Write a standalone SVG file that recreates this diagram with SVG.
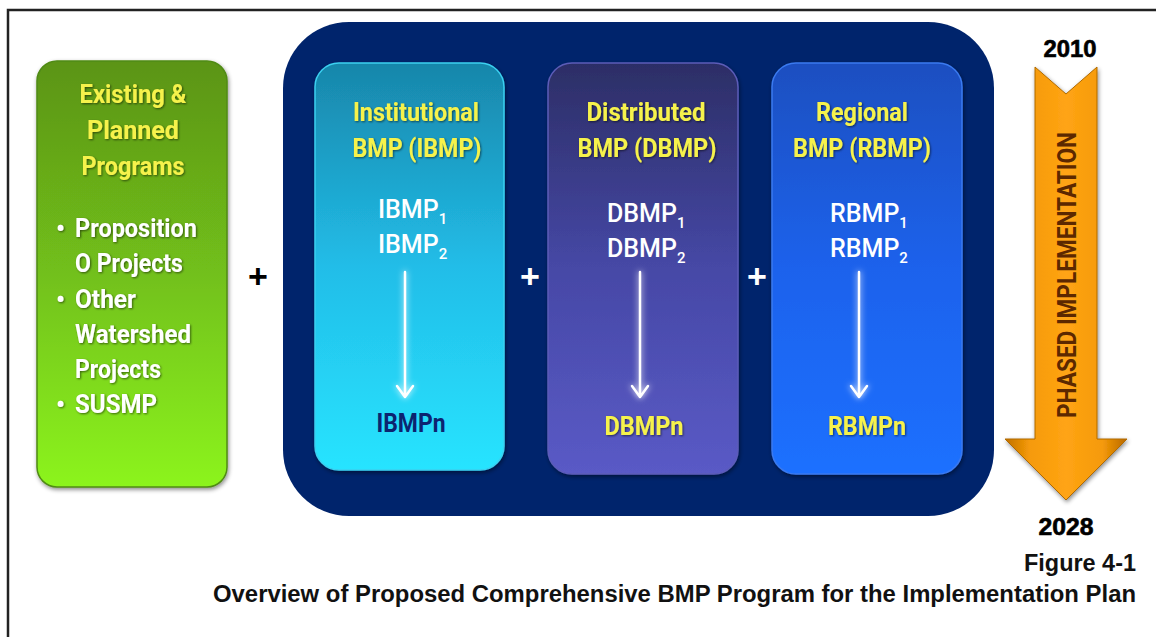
<svg xmlns="http://www.w3.org/2000/svg" width="1156" height="637" viewBox="0 0 1156 637">
<defs>
  <linearGradient id="gGreen" x1="0" y1="0" x2="0" y2="1">
    <stop offset="0" stop-color="#5b9418"/>
    <stop offset="0.5" stop-color="#72c01a"/>
    <stop offset="1" stop-color="#8cf41c"/>
  </linearGradient>
  <linearGradient id="gCyan" x1="0" y1="0" x2="0" y2="1">
    <stop offset="0" stop-color="#1886aa"/>
    <stop offset="0.5" stop-color="#22bde8"/>
    <stop offset="1" stop-color="#28e4ff"/>
  </linearGradient>
  <linearGradient id="gPurple" x1="0" y1="0" x2="0" y2="1">
    <stop offset="0" stop-color="#2c2e66"/>
    <stop offset="0.5" stop-color="#4648a6"/>
    <stop offset="1" stop-color="#5a5ac6"/>
  </linearGradient>
  <linearGradient id="gBlue" x1="0" y1="0" x2="0" y2="1">
    <stop offset="0" stop-color="#1a4fc0"/>
    <stop offset="0.5" stop-color="#1e62ec"/>
    <stop offset="1" stop-color="#1f70ff"/>
  </linearGradient>
  <linearGradient id="gOrange" x1="0" y1="0" x2="1" y2="0">
    <stop offset="0" stop-color="#c07000"/>
    <stop offset="0.2" stop-color="#f59a08"/>
    <stop offset="0.5" stop-color="#ffa414"/>
    <stop offset="0.8" stop-color="#f59a08"/>
    <stop offset="1" stop-color="#b86800"/>
  </linearGradient>
  <filter id="shadow" x="-10%" y="-10%" width="120%" height="120%">
    <feDropShadow dx="1" dy="2" stdDeviation="2" flood-color="#000" flood-opacity="0.45"/>
  </filter>
  <filter id="tshadow" x="-10%" y="-20%" width="120%" height="140%">
    <feDropShadow dx="1" dy="1" stdDeviation="0.8" flood-color="#000" flood-opacity="0.55"/>
  </filter>
  <filter id="glow" x="-200%" y="-10%" width="500%" height="120%">
    <feGaussianBlur in="SourceGraphic" stdDeviation="3" result="b"/>
    <feMerge><feMergeNode in="b"/><feMergeNode in="SourceGraphic"/></feMerge>
  </filter>
</defs>
<style>
  .title { font-family: Roboto, "Liberation Sans", sans-serif; font-weight: bold; font-size: 26px; fill: #f6f24c; text-anchor: middle; }
  .item { font-family: Roboto, "Liberation Sans", sans-serif; font-weight: 500; font-size: 25px; fill: #ffffff; }
  .green { font-family: Roboto, "Liberation Sans", sans-serif; font-weight: bold; font-size: 25px; fill: #ffffff; }
  .end { font-family: Roboto, "Liberation Sans", sans-serif; font-weight: bold; font-size: 25px; }
  .plus { font-family: "Liberation Sans", sans-serif; font-weight: bold; font-size: 34px; text-anchor: middle; }
  .year { font-family: "Liberation Sans", sans-serif; font-weight: bold; font-size: 23px; fill: #000; text-anchor: middle; stroke: #000; stroke-width: 0.6; }
  .cap { font-family: "Liberation Sans", sans-serif; font-weight: bold; fill: #111; text-anchor: end; }
  .flow { stroke: #ffffff; stroke-width: 2.5; fill: none; stroke-linecap: round; stroke-linejoin: round; }
</style>

<!-- frame -->
<path d="M8,637 L8,10 L1156,10" fill="none" stroke="#222" stroke-width="2.5"/>

<!-- container -->
<g id="container">
  <rect x="283" y="22" width="711" height="494" rx="66" ry="66" fill="#00246c"/>
</g>

<!-- existing programs -->
<g id="existing">
  <rect x="37" y="61" width="190" height="426" rx="20" ry="20" fill="url(#gGreen)" stroke="#4f8a12" stroke-width="1.5" filter="url(#shadow)"/>
  <g filter="url(#tshadow)">
    <text class="title" x="133" y="103" textLength="107" lengthAdjust="spacingAndGlyphs">Existing &amp;</text>
    <text class="title" x="133" y="139" textLength="92" lengthAdjust="spacingAndGlyphs">Planned</text>
    <text class="title" x="133" y="175" textLength="103" lengthAdjust="spacingAndGlyphs">Programs</text>
    <text class="green" x="56" y="237">•</text>
    <text class="green" x="75" y="237" textLength="122" lengthAdjust="spacingAndGlyphs">Proposition</text>
    <text class="green" x="75" y="272" textLength="108" lengthAdjust="spacingAndGlyphs">O Projects</text>
    <text class="green" x="56" y="308">•</text>
    <text class="green" x="75" y="308" textLength="61" lengthAdjust="spacingAndGlyphs">Other</text>
    <text class="green" x="75" y="343" textLength="116" lengthAdjust="spacingAndGlyphs">Watershed</text>
    <text class="green" x="75" y="378" textLength="86" lengthAdjust="spacingAndGlyphs">Projects</text>
    <text class="green" x="56" y="413">•</text>
    <text class="green" x="75" y="413" textLength="82" lengthAdjust="spacingAndGlyphs">SUSMP</text>
  </g>
</g>

<!-- IBMP -->
<g id="ibmp">
  <rect x="315" y="63" width="189" height="407" rx="24" ry="24" fill="url(#gCyan)" stroke="#3ad0f0" stroke-width="1.5" filter="url(#shadow)"/>
  <g filter="url(#tshadow)">
    <text class="title" x="416" y="121" textLength="126" lengthAdjust="spacingAndGlyphs">Institutional</text>
    <text class="title" x="417" y="157" textLength="129" lengthAdjust="spacingAndGlyphs">BMP (IBMP)</text>
  </g>
  <text class="item" x="378" y="218">IBMP<tspan font-size="15" dy="6">1</tspan></text>
  <text class="item" x="378" y="253">IBMP<tspan font-size="15" dy="6">2</tspan></text>
  <text class="end" x="411" y="432" fill="#0c2470" text-anchor="middle" textLength="69" lengthAdjust="spacingAndGlyphs">IBMPn</text>
</g>

<!-- DBMP -->
<g id="dbmp">
  <rect x="548" y="63" width="190" height="411" rx="24" ry="24" fill="url(#gPurple)" stroke="#5c5cb8" stroke-width="1.5" filter="url(#shadow)"/>
  <g filter="url(#tshadow)">
    <text class="title" x="646" y="121" textLength="119" lengthAdjust="spacingAndGlyphs">Distributed</text>
    <text class="title" x="647" y="157" textLength="139" lengthAdjust="spacingAndGlyphs">BMP (DBMP)</text>
  </g>
  <text class="item" x="607" y="222">DBMP<tspan font-size="15" dy="6">1</tspan></text>
  <text class="item" x="607" y="257">DBMP<tspan font-size="15" dy="6">2</tspan></text>
  <text class="end" x="644" y="435" fill="#f6f24c" text-anchor="middle" textLength="79" lengthAdjust="spacingAndGlyphs" filter="url(#tshadow)">DBMPn</text>
</g>

<!-- RBMP -->
<g id="rbmp">
  <rect x="772" y="63" width="190" height="411" rx="24" ry="24" fill="url(#gBlue)" stroke="#3a7af0" stroke-width="1.5" filter="url(#shadow)"/>
  <g filter="url(#tshadow)">
    <text class="title" x="862" y="121" textLength="92" lengthAdjust="spacingAndGlyphs">Regional</text>
    <text class="title" x="862" y="157" textLength="138" lengthAdjust="spacingAndGlyphs">BMP (RBMP)</text>
  </g>
  <text class="item" x="830" y="222">RBMP<tspan font-size="15" dy="6">1</tspan></text>
  <text class="item" x="830" y="257">RBMP<tspan font-size="15" dy="6">2</tspan></text>
  <text class="end" x="867" y="435" fill="#f6f24c" text-anchor="middle" textLength="78" lengthAdjust="spacingAndGlyphs" filter="url(#tshadow)">RBMPn</text>
</g>

<!-- connectors -->
<g id="connectors">
  <g filter="url(#glow)">
    <path class="flow" d="M405,272 L405,397 M397,386 L405,397 L413,386"/>
    <path class="flow" d="M640,272 L640,397 M632,386 L640,397 L648,386"/>
    <path class="flow" d="M859,272 L859,397 M851,386 L859,397 L867,386"/>
  </g>
  <text class="plus" x="258" y="288" fill="#000">+</text>
  <text class="plus" x="530" y="288" fill="#fff">+</text>
  <text class="plus" x="757" y="288" fill="#fff">+</text>
</g>

<!-- phased implementation arrow -->
<g id="phased">
  <text class="year" x="1070" y="57" textLength="53" lengthAdjust="spacingAndGlyphs">2010</text>
  <path d="M1035,67 L1066,94 L1097,67 L1097,439 L1127,439 L1066,500 L1005,439 L1035,439 Z" fill="url(#gOrange)" stroke="#b06a00" stroke-width="1" filter="url(#shadow)"/>
  <text transform="translate(1076,275) rotate(-90)" font-family="Roboto, 'Liberation Sans', sans-serif" font-weight="bold" font-size="26" fill="#5c2800" text-anchor="middle" textLength="286" lengthAdjust="spacingAndGlyphs">PHASED IMPLEMENTATION</text>
  <text class="year" x="1066" y="535" textLength="55" lengthAdjust="spacingAndGlyphs">2028</text>
</g>

<!-- caption -->
<g id="caption">
  <text class="cap" x="1136" y="571" font-size="24" textLength="112" lengthAdjust="spacingAndGlyphs">Figure 4-1</text>
  <text class="cap" x="1136" y="602" font-size="23.5" textLength="923" lengthAdjust="spacingAndGlyphs">Overview of Proposed Comprehensive BMP Program for the Implementation Plan</text>
</g>
</svg>
